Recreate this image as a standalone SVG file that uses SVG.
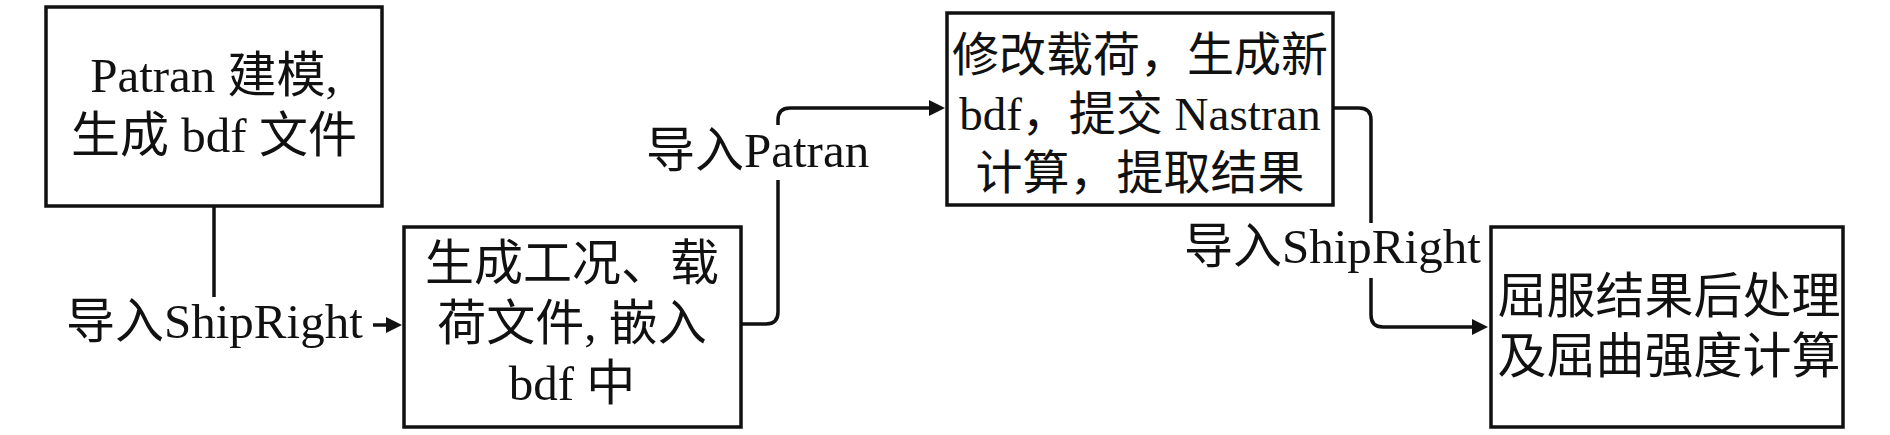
<svg xmlns="http://www.w3.org/2000/svg" width="1890" height="435" viewBox="0 0 1890 435">
<style>
.box{fill:#fff;stroke:#111;stroke-width:3.5}
.ln{fill:none;stroke:#111;stroke-width:3.5}
text{font-family:"Liberation Serif","Noto Sans CJK SC",serif;font-size:49px;fill:#111}
.c{text-anchor:middle}
.s{font-size:47px}
</style>
<defs>
<marker id="ah" markerUnits="userSpaceOnUse" markerWidth="17" markerHeight="17" refX="0" refY="8" orient="auto">
<path d="M0,0 L16,8 L0,16 Z" fill="#111"/>
</marker>
</defs>
<rect width="1890" height="435" fill="#fff"/>
<g id="connectors">
<path class="ln" d="M214,206 V297"/>
<path class="ln" d="M373,325 H386" marker-end="url(#ah)"/>
<path class="ln" d="M741,324 H766 Q778,324 778,312 V180"/>
<path class="ln" d="M778,125 V120 Q778,108 790,108 H929" marker-end="url(#ah)"/>
<path class="ln" d="M1333,108 H1359 Q1371,108 1371,120 V223"/>
<path class="ln" d="M1371,278 V315 Q1371,327 1383,327 H1472" marker-end="url(#ah)"/>
</g>
<g id="labels">
<text x="66" y="338">导入ShipRight</text>
<text x="646" y="167">导入Patran</text>
<text x="1184" y="263">导入ShipRight</text>
</g>
<g id="n1">
<rect class="box" x="46" y="7" width="336" height="199"/>
<text class="c" x="214" y="92">Patran 建模,</text>
<text class="c" x="214" y="152">生成 bdf 文件</text>
</g>
<g id="n2">
<rect class="box" x="404" y="227" width="337" height="200"/>
<text class="c" x="572" y="280">生成工况、载</text>
<text class="c" x="572" y="340">荷文件, 嵌入</text>
<text class="c" x="572" y="400">bdf 中</text>
</g>
<g id="n3">
<rect class="box" x="947" y="13" width="386" height="192"/>
<text class="c s" x="1140" y="71">修改载荷，生成新</text>
<text class="c s" x="1140" y="130">bdf，提交 Nastran</text>
<text class="c s" x="1140" y="189">计算，提取结果</text>
</g>
<g id="n4">
<rect class="box" x="1491" y="227" width="352" height="200"/>
<text class="c" x="1669" y="313">屈服结果后处理</text>
<text class="c" x="1669" y="373">及屈曲强度计算</text>
</g>
</svg>
